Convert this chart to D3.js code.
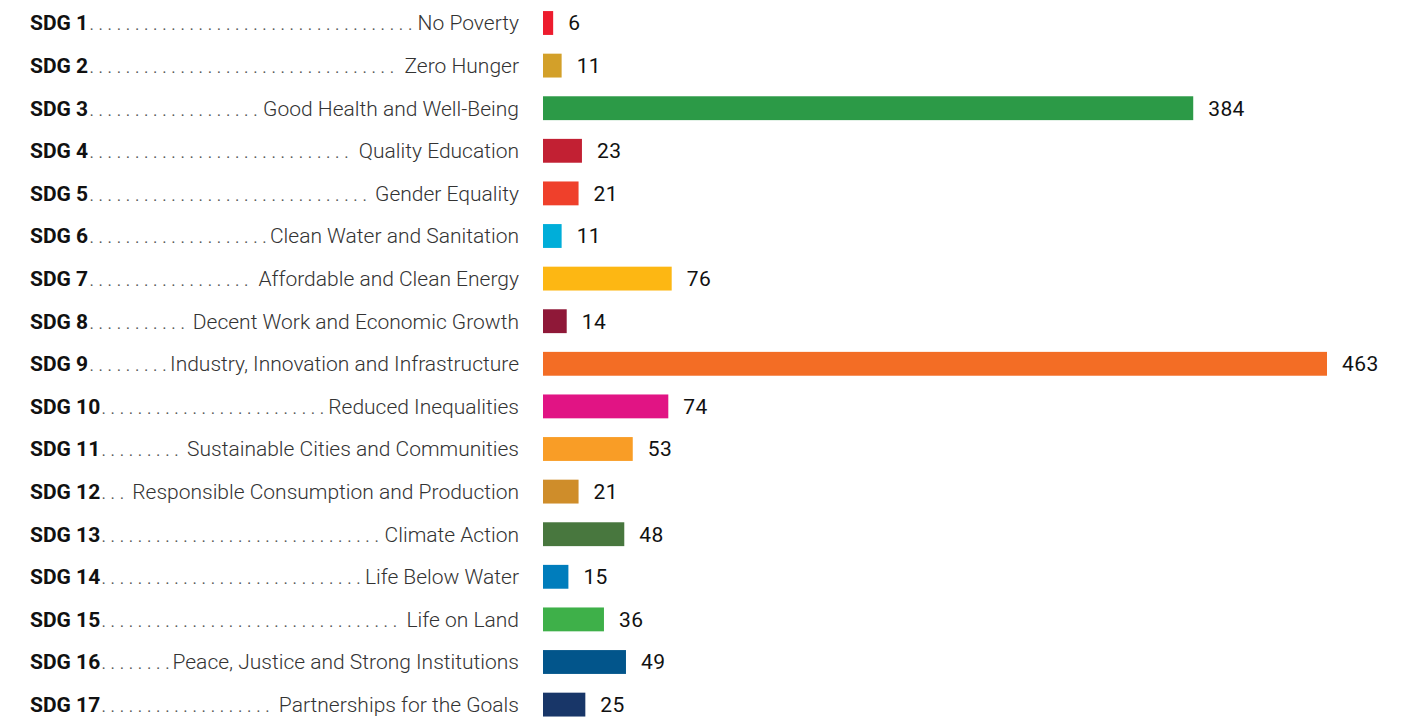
<!DOCTYPE html>
<html>
<head>
<meta charset="UTF-8">
<style>
body { margin: 0; background: #fff; }
.sdg { font-family: Roboto, sans-serif; font-weight: 700; font-size: 21px; fill: #111; }
.desc { font-family: Roboto, sans-serif; font-weight: 300; font-size: 21px; fill: #333; }
.dot { font-family: Roboto, sans-serif; font-weight: 300; font-size: 21px; fill: #555; }
.val { font-family: Roboto, sans-serif; font-weight: 400; font-size: 21px; fill: #111; letter-spacing: 0.4px; }
</style>
</head>
<body>
<svg width="1414" height="719"></svg>
<script src="https://cdn.jsdelivr.net/npm/d3@7"></script>
<script>
// SDG numbers, names, counts and colours
var goals = ["SDG 1", "SDG 2", "SDG 3", "SDG 4", "SDG 5", "SDG 6", "SDG 7", "SDG 8", "SDG 9",
  "SDG 10", "SDG 11", "SDG 12", "SDG 13", "SDG 14", "SDG 15", "SDG 16", "SDG 17"];
var names = ["No Poverty", "Zero Hunger", "Good Health and Well-Being", "Quality Education",
  "Gender Equality", "Clean Water and Sanitation", "Affordable and Clean Energy",
  "Decent Work and Economic Growth", "Industry, Innovation and Infrastructure",
  "Reduced Inequalities", "Sustainable Cities and Communities",
  "Responsible Consumption and Production", "Climate Action", "Life Below Water",
  "Life on Land", "Peace, Justice and Strong Institutions", "Partnerships for the Goals"];
var counts = [6, 11, 384, 23, 21, 11, 76, 14, 463, 74, 53, 21, 48, 15, 36, 49, 25];
var colors = ["#ed1c2e", "#d3a029", "#2c9a47", "#c22033", "#ef402b", "#00aed9", "#fdb713",
  "#8f1838", "#f36d25", "#e11484", "#f99d26", "#cf8d2a", "#48773e", "#007dbc",
  "#3eb049", "#02558b", "#183668"];

var data = goals.map(function(g, i) {
  return {goal: g, name: names[i], count: counts[i], color: colors[i]};
});

var svg = d3.select("svg");

var step = 42.6, top0 = 1.7;
var y = d3.scaleBand()
    .domain(goals)
    .range([top0, top0 + step * goals.length])
    .paddingInner(0.44)
    .paddingOuter(0.22);

var x = d3.scaleLinear()
    .domain([0, 463])
    .range([543, 1327]);

var row = svg.selectAll(".row")
  .data(data)
  .enter().append("g")
    .attr("class", "row")
    .attr("transform", function(d) { return "translate(0," + (y(d.goal) + y.bandwidth() / 2) + ")"; });

row.append("text")
    .attr("class", "sdg")
    .attr("x", 30)
    .attr("dy", "0.35em")
    .text(function(d) { return d.goal; });

row.append("text")
    .attr("class", "desc")
    .attr("x", 519)
    .attr("dy", "0.35em")
    .attr("text-anchor", "end")
    .text(function(d) { return d.name; });

row.append("rect")
    .attr("x", x(0))
    .attr("y", -y.bandwidth() / 2)
    .attr("height", y.bandwidth())
    .attr("width", function(d) { return x(d.count) - x(0); })
    .attr("fill", function(d) { return d.color; });

row.append("text")
    .attr("class", "val")
    .attr("x", function(d) { return x(d.count) + 15; })
    .attr("dy", "0.35em")
    .text(function(d) { return d.count; });

// leader dots between the goal number and its name
row.each(function(d) {
  var g = d3.select(this);
  var start = 30 + g.select(".sdg").node().getComputedTextLength() + 1;
  var end = 519 - g.select(".desc").node().getComputedTextLength() - 6;
  var xs = d3.range(start, end, 9.1);
  g.selectAll(".dot")
    .data(xs)
    .enter().append("text")
      .attr("class", "dot")
      .attr("x", function(v) { return v; })
      .attr("dy", "0.35em")
      .text(".");
});
</script>
</body>
</html>
